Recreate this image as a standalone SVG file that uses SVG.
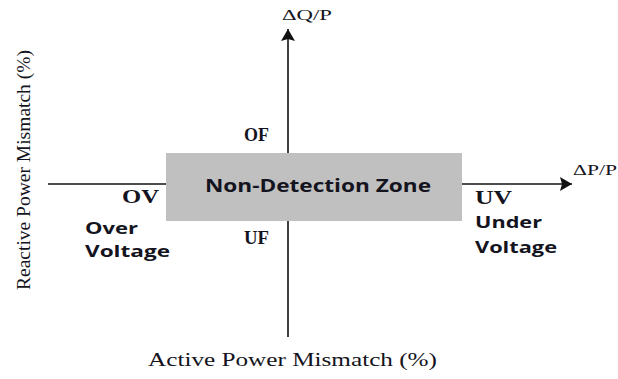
<svg xmlns="http://www.w3.org/2000/svg" width="618" height="379" viewBox="0 0 618 379">
<style>
.serif{font-family:"Liberation Serif","Times New Roman",serif;fill:#141420;}
.sans{font-family:"Open Sans","Liberation Sans",sans-serif;font-weight:bold;fill:#141420;}
.ax{stroke:#111;stroke-width:1.6;fill:none;}
</style>
<defs>
<marker id="ah" viewBox="0 0 12 14" refX="12" refY="7" markerWidth="12" markerHeight="14" markerUnits="userSpaceOnUse" orient="auto">
<path d="M0,0 L12,7 L0,14 L2,7 Z" fill="#111"/>
</marker>
</defs>
<rect width="618" height="379" fill="#fff"/>
<g id="connectors">
<line class="ax" x1="288" y1="337" x2="288" y2="29" marker-end="url(#ah)"/>
<line class="ax" x1="48" y1="184" x2="572" y2="184" marker-end="url(#ah)"/>
</g>
<g id="ndz">
<rect x="166" y="153" width="296" height="68" fill="#c0c0c0"/>
<text class="sans" x="205" y="192" font-size="17" textLength="226" lengthAdjust="spacingAndGlyphs">Non-Detection Zone</text>
</g>
<g id="labels">
<text class="serif" x="282" y="20" font-size="15" textLength="50" lengthAdjust="spacingAndGlyphs">ΔQ/P</text>
<text class="serif" x="573" y="175" font-size="15" textLength="44" lengthAdjust="spacingAndGlyphs">ΔP/P</text>
<text class="serif" x="244" y="141" font-size="19" font-weight="bold" textLength="25" lengthAdjust="spacingAndGlyphs">OF</text>
<text class="serif" x="244" y="244" font-size="19" font-weight="bold" textLength="25" lengthAdjust="spacingAndGlyphs">UF</text>
<text class="serif" x="122" y="203" font-size="18" font-weight="bold" textLength="37" lengthAdjust="spacingAndGlyphs">OV</text>
<text class="serif" x="475" y="204" font-size="18" font-weight="bold" textLength="37" lengthAdjust="spacingAndGlyphs">UV</text>
<text class="sans" x="85" y="234" font-size="16" textLength="53" lengthAdjust="spacingAndGlyphs">Over</text>
<text class="sans" x="85" y="257" font-size="16" textLength="85" lengthAdjust="spacingAndGlyphs">Voltage</text>
<text class="sans" x="475" y="228" font-size="16" textLength="67" lengthAdjust="spacingAndGlyphs">Under</text>
<text class="sans" x="475" y="253" font-size="16" textLength="82" lengthAdjust="spacingAndGlyphs">Voltage</text>
<text class="serif" x="148" y="366" font-size="19" textLength="289" lengthAdjust="spacingAndGlyphs">Active Power Mismatch (%)</text>
<text class="serif" transform="translate(30,290) rotate(-90)" font-size="19" textLength="240" lengthAdjust="spacingAndGlyphs">Reactive Power Mismatch (%)</text>
</g>
</svg>
